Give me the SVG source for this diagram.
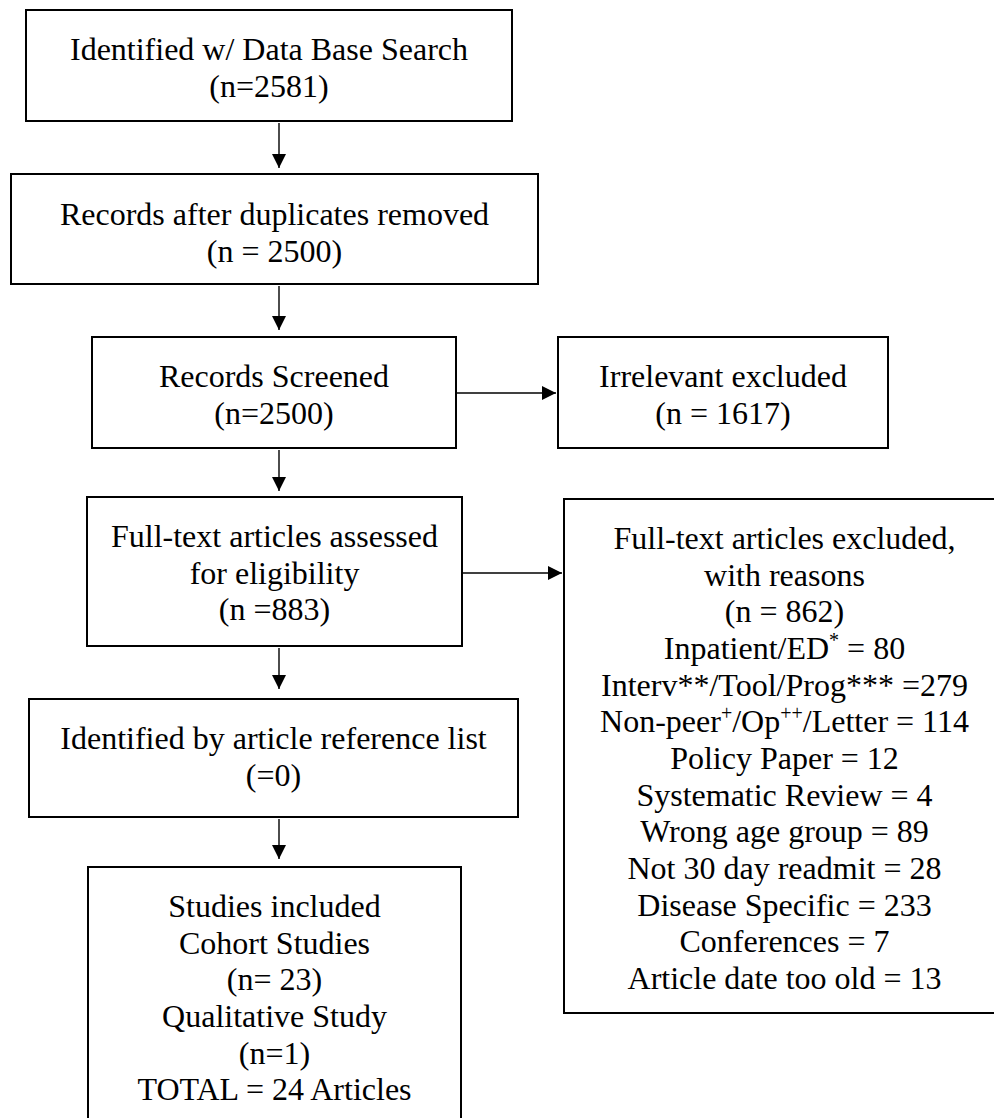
<svg xmlns="http://www.w3.org/2000/svg" width="994" height="1118" viewBox="0 0 994 1118">
  <style>
    .box { fill: #ffffff; stroke: #000000; stroke-width: 2; }
    .lbl { font-family: "Liberation Serif", "Times New Roman", serif; font-size: 32px; fill: #000000; text-anchor: middle; }
    .sup { font-size: 20px; }
    .conn { stroke: #000000; stroke-width: 1.4; fill: none; marker-end: url(#arrow); }
  </style>
  <defs>
    <marker id="arrow" viewBox="0 0 14 14" refX="14" refY="7" markerWidth="14" markerHeight="14" markerUnits="userSpaceOnUse" orient="auto">
      <path d="M0,0 L14,7 L0,14 Z" fill="#000000"/>
    </marker>
  </defs>
  <rect width="994" height="1118" fill="#ffffff"/>

  <!-- connectors -->
  <g id="connectors">
    <line class="conn" x1="279" y1="123" x2="279" y2="168"/>
    <line class="conn" x1="279" y1="286" x2="279" y2="330"/>
    <line class="conn" x1="279" y1="450" x2="279" y2="491"/>
    <line class="conn" x1="279" y1="648" x2="279" y2="689"/>
    <line class="conn" x1="279" y1="819" x2="279" y2="859"/>
    <line class="conn" x1="457" y1="393" x2="556" y2="393"/>
    <line class="conn" x1="463" y1="573" x2="562" y2="573"/>
  </g>

  <g id="identified">
    <rect class="box" x="26" y="10" width="486" height="111"/>
    <text class="lbl" x="269" y="60">Identified w/ Data Base Search</text>
    <text class="lbl" x="269" y="97">(n=2581)</text>
  </g>

  <g id="deduplicated">
    <rect class="box" x="11" y="174" width="527" height="110"/>
    <text class="lbl" x="274.5" y="225">Records after duplicates removed</text>
    <text class="lbl" x="274.5" y="262">(n = 2500)</text>
  </g>

  <g id="screened">
    <rect class="box" x="92" y="337" width="364" height="111"/>
    <text class="lbl" x="274" y="387">Records Screened</text>
    <text class="lbl" x="274" y="424">(n=2500)</text>
  </g>

  <g id="irrelevant">
    <rect class="box" x="558" y="337" width="330" height="111"/>
    <text class="lbl" x="723" y="387">Irrelevant excluded</text>
    <text class="lbl" x="723" y="424">(n = 1617)</text>
  </g>

  <g id="fulltext">
    <rect class="box" x="87" y="497" width="375" height="149"/>
    <text class="lbl" x="274.5" y="547">Full-text articles assessed</text>
    <text class="lbl" x="274.5" y="584">for eligibility</text>
    <text class="lbl" x="274.5" y="620">(n =883)</text>
  </g>

  <g id="excluded">
    <rect class="box" x="564" y="499" width="441" height="514"/>
    <text class="lbl" x="784.5" y="549">Full-text articles excluded,</text>
    <text class="lbl" x="784.5" y="586">with reasons</text>
    <text class="lbl" x="784.5" y="622">(n = 862)</text>
    <text class="lbl" x="784.5" y="659">Inpatient/ED<tspan class="sup" dy="-12">*</tspan><tspan dy="12"> = 80</tspan></text>
    <text class="lbl" x="784.5" y="696">Interv**/Tool/Prog*** =279</text>
    <text class="lbl" x="784.5" y="732">Non-peer<tspan class="sup" dy="-12">+</tspan><tspan dy="12">/Op</tspan><tspan class="sup" dy="-12">++</tspan><tspan dy="12">/Letter = 114</tspan></text>
    <text class="lbl" x="784.5" y="769">Policy Paper = 12</text>
    <text class="lbl" x="784.5" y="806">Systematic Review = 4</text>
    <text class="lbl" x="784.5" y="842">Wrong age group = 89</text>
    <text class="lbl" x="784.5" y="879">Not 30 day readmit = 28</text>
    <text class="lbl" x="784.5" y="916">Disease Specific = 233</text>
    <text class="lbl" x="784.5" y="952">Conferences = 7</text>
    <text class="lbl" x="784.5" y="989">Article date too old = 13</text>
  </g>

  <g id="reference-list">
    <rect class="box" x="29" y="699" width="489" height="118"/>
    <text class="lbl" x="273.5" y="749">Identified by article reference list</text>
    <text class="lbl" x="273.5" y="786">(=0)</text>
  </g>

  <g id="included">
    <rect class="box" x="88" y="867" width="373" height="270"/>
    <text class="lbl" x="274.5" y="917">Studies included</text>
    <text class="lbl" x="274.5" y="954">Cohort Studies</text>
    <text class="lbl" x="274.5" y="990">(n= 23)</text>
    <text class="lbl" x="274.5" y="1027">Qualitative Study</text>
    <text class="lbl" x="274.5" y="1064">(n=1)</text>
    <text class="lbl" x="274.5" y="1100">TOTAL = 24 Articles</text>
  </g>
</svg>
